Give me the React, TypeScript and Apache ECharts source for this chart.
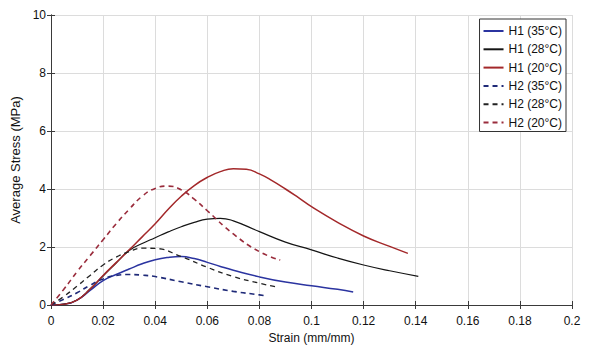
import React, { useEffect, useRef } from "react";
import * as echarts from "echarts";

const h1_35_x = [0, 0.005, 0.01, 0.015, 0.02, 0.025, 0.03, 0.035, 0.04, 0.045, 0.05, 0.055, 0.06, 0.065, 0.07, 0.08, 0.09, 0.1, 0.11, 0.116];
const h1_35_y = [0, 0.03, 0.17, 0.5, 0.84, 1.05, 1.24, 1.42, 1.56, 1.64, 1.67, 1.6, 1.47, 1.33, 1.2, 0.97, 0.79, 0.66, 0.54, 0.45];

const h1_28_x = [0, 0.005, 0.01, 0.015, 0.02, 0.025, 0.03, 0.035, 0.04, 0.045, 0.05, 0.055, 0.06, 0.065, 0.07, 0.08, 0.09, 0.1, 0.11, 0.12, 0.13, 0.141];
const h1_28_y = [0, 0.03, 0.17, 0.55, 1.0, 1.45, 1.88, 2.12, 2.32, 2.52, 2.7, 2.85, 2.96, 2.99, 2.9, 2.53, 2.17, 1.9, 1.62, 1.38, 1.18, 0.99];

const h1_20_x = [0, 0.005, 0.01, 0.015, 0.02, 0.025, 0.03, 0.035, 0.04, 0.045, 0.05, 0.055, 0.06, 0.065, 0.07, 0.075, 0.08, 0.085, 0.09, 0.095, 0.1, 0.11, 0.12, 0.13, 0.137];
const h1_20_y = [0, 0.03, 0.17, 0.55, 1.02, 1.46, 1.9, 2.35, 2.8, 3.3, 3.75, 4.12, 4.4, 4.6, 4.7, 4.68, 4.52, 4.28, 4.0, 3.7, 3.39, 2.85, 2.38, 2.02, 1.78];

const h2_35_x = [0, 0.005, 0.01, 0.015, 0.02, 0.025, 0.03, 0.035, 0.04, 0.05, 0.06, 0.07, 0.08, 0.083];
const h2_35_y = [0, 0.2, 0.42, 0.68, 0.9, 1.02, 1.05, 1.03, 0.98, 0.8, 0.63, 0.47, 0.35, 0.31];

const h2_28_x = [0, 0.005, 0.01, 0.015, 0.02, 0.025, 0.03, 0.035, 0.04, 0.05, 0.06, 0.07, 0.08, 0.086];
const h2_28_y = [0, 0.3, 0.65, 1.02, 1.38, 1.65, 1.84, 1.96, 1.95, 1.67, 1.3, 0.98, 0.75, 0.63];

const h2_20_x = [0, 0.005, 0.01, 0.015, 0.02, 0.025, 0.03, 0.035, 0.04, 0.045, 0.05, 0.055, 0.06, 0.07, 0.08, 0.088];
const h2_20_y = [0, 0.55, 1.15, 1.7, 2.25, 2.8, 3.3, 3.75, 4.02, 4.1, 3.97, 3.65, 3.25, 2.45, 1.84, 1.55];

const seriesNames = ["H1 (35°C)", "H1 (28°C)", "H1 (20°C)", "H2 (35°C)", "H2 (28°C)", "H2 (20°C)"];
const xTicks = { min: 0, max: 0.2, interval: 0.02 };
const yTicks = { min: 0, max: 10, interval: 2 };

const FONT = "'Liberation Sans', Arial, sans-serif";

function pairs(xs: number[], ys: number[]) {
  return xs.map((x, i) => [x, ys[i]]);
}

export default function App() {
  const ref = useRef<HTMLDivElement>(null);
  useEffect(() => {
    if (!ref.current) return;
    const chart = echarts.init(ref.current, undefined, { renderer: "svg" });
    const defs = [
      { x: h1_35_x, y: h1_35_y, color: "#2b34a0", type: "solid", width: 1.5 },
      { x: h1_28_x, y: h1_28_y, color: "#151515", type: "solid", width: 1.2 },
      { x: h1_20_x, y: h1_20_y, color: "#a3282a", type: "solid", width: 1.5 },
      { x: h2_35_x, y: h2_35_y, color: "#1f2a78", type: [5, 4], width: 1.6 },
      { x: h2_28_x, y: h2_28_y, color: "#222222", type: [5, 4], width: 1.3 },
      { x: h2_20_x, y: h2_20_y, color: "#9a2c3c", type: [5, 4], width: 1.6 },
    ];
    const series = defs.map((d, i) => ({
      name: seriesNames[i],
      type: "line",
      data: pairs(d.x, d.y),
      smooth: 0.5,
      symbol: "none",
      showSymbol: false,
      xAxisIndex: 0,
      yAxisIndex: 0,
      itemStyle: { color: d.color },
      lineStyle: { color: d.color, width: d.width, type: d.type as any },
      z: 3,
    }));
    const axisLine = { show: true, lineStyle: { color: "#3a3a3a", width: 1 } };
    chart.setOption({
      animation: false,
      backgroundColor: "#ffffff",
      textStyle: { fontFamily: FONT },
      grid: { left: 51, right: 17, top: 15, bottom: 44, containLabel: false },
      legend: {
        data: seriesNames,
        orient: "vertical",
        right: 23,
        top: 19,
        itemWidth: 20,
        itemHeight: 12,
        itemGap: 6.3,
        padding: [6, 4, 3, 3],
        borderColor: "#333333",
        borderWidth: 1,
        backgroundColor: "#ffffff",
        itemStyle: { opacity: 0 },
        textStyle: { fontFamily: FONT, fontSize: 12, color: "#111", lineHeight: 12 },
      },
      xAxis: [
        {
          type: "value",
          min: xTicks.min,
          max: xTicks.max,
          interval: xTicks.interval,
          position: "bottom",
          name: "Strain (mm/mm)",
          nameLocation: "middle",
          nameGap: 26,
          nameTextStyle: { fontFamily: FONT, fontSize: 12, color: "#111" },
          axisLine,
          axisTick: { show: true, inside: true, length: 4, lineStyle: { color: "#3a3a3a" } },
          axisLabel: { fontFamily: FONT, fontSize: 12, color: "#111", margin: 10, formatter: (v: number) => String(+v.toFixed(2)) },
          splitLine: { show: true, lineStyle: { color: "#dcdcdc", width: 1 } },
        },
        {
          type: "value",
          min: xTicks.min,
          max: xTicks.max,
          interval: xTicks.interval,
          position: "top",
          axisLine,
          axisTick: { show: true, inside: true, length: 4, lineStyle: { color: "#3a3a3a" } },
          axisLabel: { show: false },
          splitLine: { show: false },
        },
      ],
      yAxis: [
        {
          type: "value",
          min: yTicks.min,
          max: yTicks.max,
          interval: yTicks.interval,
          position: "left",
          name: "Average Stress (MPa)",
          nameLocation: "middle",
          nameGap: 22,
          nameTextStyle: { fontFamily: FONT, fontSize: 13, color: "#111" },
          axisLine,
          axisTick: { show: true, inside: true, length: 4, lineStyle: { color: "#3a3a3a" } },
          axisLabel: { fontFamily: FONT, fontSize: 12, color: "#111", margin: 5 },
          splitLine: { show: true, lineStyle: { color: "#dcdcdc", width: 1 } },
        },
        {
          type: "value",
          min: yTicks.min,
          max: yTicks.max,
          interval: yTicks.interval,
          position: "right",
          axisLine,
          axisTick: { show: true, inside: true, length: 4, lineStyle: { color: "#3a3a3a" } },
          axisLabel: { show: false },
          splitLine: { show: false },
        },
      ],
      series,
    });
    return () => chart.dispose();
  }, []);
  return <div ref={ref} style={{ width: 589, height: 349, position: "absolute", left: 0, top: 0 }} />;
}
